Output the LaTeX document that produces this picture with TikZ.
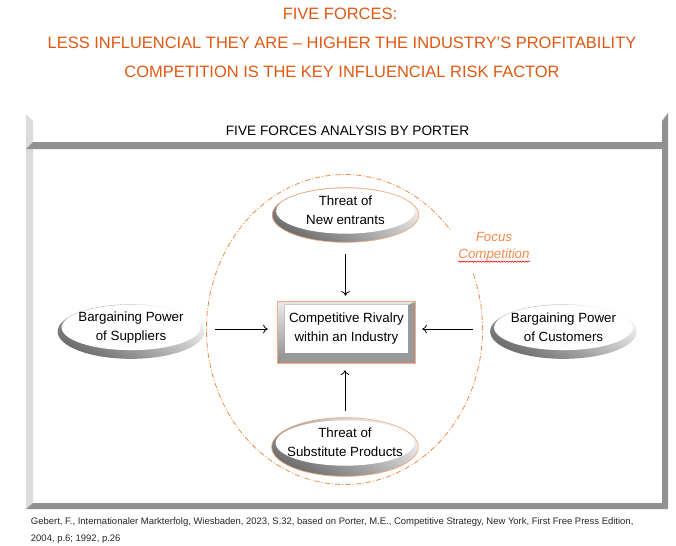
\documentclass[tikz,border=0pt]{standalone}
\usepackage{fontspec}
\setmainfont{Liberation Sans}
\usetikzlibrary{shapes.geometric,decorations.pathmorphing,arrows.meta}
\definecolor{titleorange}{RGB}{224,88,18}
\definecolor{focusorange}{RGB}{240,140,75}
\definecolor{rimline}{RGB}{240,170,125}
\definecolor{bevlight}{RGB}{220,220,220}
\definecolor{bevdark}{RGB}{145,145,145}

\begin{document}
\begin{tikzpicture}[x=0.75pt,y=-0.75pt,
  title/.style={font=\fontsize{12.35}{14}\selectfont, text=titleorange, anchor=base, inner sep=0pt},
  shell/.style={ellipse, inner sep=0pt, minimum width=110pt, minimum height=41pt,
    top color=black!4, bottom color=black!58, shading angle=-30,
    path picture={\fill[white] ([yshift=3pt]path picture bounding box.center) ellipse [x radius=52pt, y radius=17pt];}},
  txt/.style={align=center, inner sep=0pt, font=\fontsize{10}{14.2}\selectfont},
  arr/.style={-{To[length=3.5pt,width=6.5pt]}, line width=0.6pt},
  focusline/.style={focusorange, line width=0.6pt, dash pattern=on 4pt off 1.5pt on 0.8pt off 1.5pt}]
\useasboundingbox (0,0) rectangle (676,546);

% titles
\node[title] (t1) at (340,19) {FIVE FORCES:};
\node[title] (t2) at (342,49) {LESS INFLUENCIAL THEY ARE -- HIGHER THE INDUSTRY'S PROFITABILITY};
\node[title] (t3) at (342,77.7) {COMPETITION IS THE KEY INFLUENCIAL RISK FACTOR};

% frame
\fill[bevlight] (26,114) -- (33,121) -- (33,503) -- (26,509) -- cycle;
\fill[bevdark] (26,149) -- (33,142) -- (662,142) -- (668,149) -- cycle;
\fill[bevdark] (26,509) -- (33,503) -- (662,503) -- (668,509) -- cycle;
\fill[bevdark] (662,121) -- (668,113) -- (668,509) -- (662,503) -- cycle;
\node[anchor=base, inner sep=0pt, font=\fontsize{10.25}{12}\selectfont] (hdr) at (347.5,135) {FIVE FORCES ANALYSIS BY PORTER};

% focus
\draw[focusline] (344.5,329.5) ++(-21:138 and 155) arc[start angle=-21, end angle=320, x radius=138, y radius=155];
\node[align=center, inner sep=0pt, text=focusorange, font=\fontsize{10}{12.75}\selectfont\itshape] (foc) at (494,246.5) {Focus\\Competition};
\draw[red, line width=0.4pt, decorate, decoration={snake, amplitude=0.5pt, segment length=2pt}] ([yshift=-0.3pt]foc.south west) -- ([yshift=-0.3pt]foc.south east);

% rivalry
\node[fill=black!40, minimum width=102.75pt, minimum height=45.75pt] (rivF) at (346.5,332.5) {};
\node[txt, fill=white, minimum width=92.25pt, minimum height=36pt] (riv) at (346.5,329) {Competitive Rivalry\\within an Industry};
\fill[black!10] (rivF.north west) -- (rivF.north east) -- (riv.north east) -- (riv.north west) -- cycle;
\shade[top color=black!8, bottom color=black!45] (rivF.north west) -- (riv.north west) -- (riv.south west) -- (rivF.south west) -- cycle;
\draw[rimline, line width=0.6pt] (rivF.north west) rectangle (rivF.south east);

% forces
\node[shell, draw=rimline, line width=0.5pt] (entR) at (345.5,215) {};
\node[txt] (ent) at (345.5,210) {Threat of\\New entrants};
\node[shell, draw=rimline, line width=0.5pt, minimum height=44pt] (subR) at (345,447) {};
\node[txt] (sub) at (345,442.5) {Threat of\\Substitute Products};
\node[shell] (suppR) at (131,331.5) {};
\node[txt] (supp) at (131,327.5) {Bargaining Power\\of Suppliers};
\node[shell] (custR) at (563.5,331.5) {};
\node[txt] (cust) at (563.5,327.5) {Bargaining Power\\of Customers};

\draw[arr, shorten <=8.25pt, shorten >=4.5pt] (entR.south) -- (entR.south |- rivF.north);
\draw[arr, shorten <=4.5pt, shorten >=5.25pt] (subR.north) -- (subR.north |- rivF.south);
\draw[arr, shorten <=7.5pt, shorten >=7.5pt] (suppR.east |- riv) -- (rivF.west |- riv);
\draw[arr, shorten <=12.75pt, shorten >=5.25pt] (custR.west |- riv) -- (rivF.east |- riv);

% source
\node[anchor=north west, align=left, inner sep=0pt, text=black!85, font=\fontsize{7.1}{13.3}\selectfont] (src) at (30.7,517) {Gebert, F., Internationaler Markterfolg, Wiesbaden, 2023, S.32, based on Porter, M.E., Competitive Strategy, New York, First Free Press Edition,\\2004, p.6; 1992, p.26};
\end{tikzpicture}
\end{document}
